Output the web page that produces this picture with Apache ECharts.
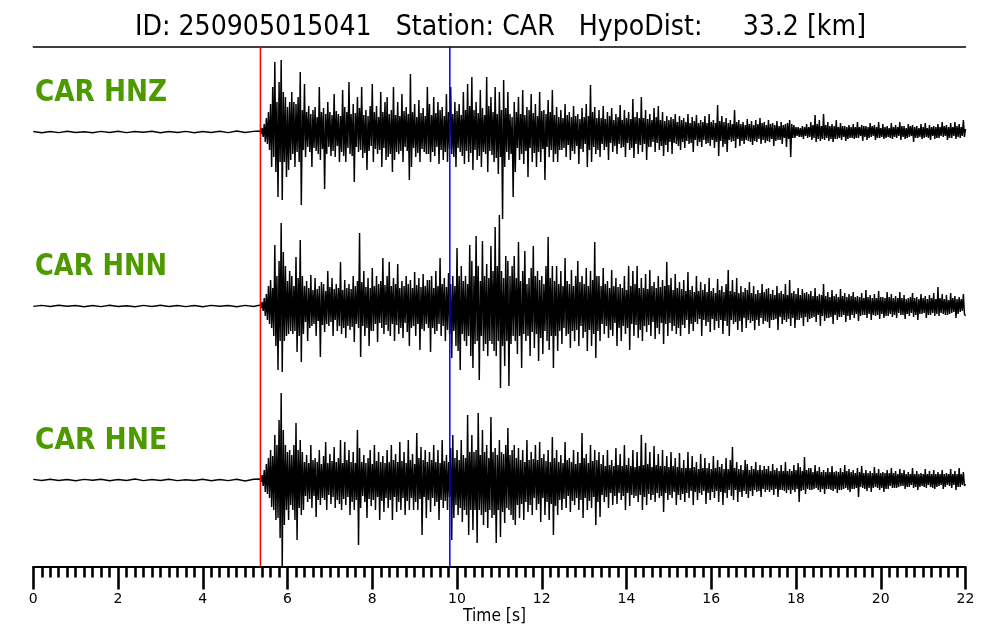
<!DOCTYPE html>
<html>
<head>
<meta charset="utf-8">
<script src="https://cdn.jsdelivr.net/npm/echarts@6/dist/echarts.min.js"></script>
<style>html,body{margin:0;padding:0;background:#fff}#chart{width:1000px;height:640px}</style>
</head>
<body>
<div id="chart"></div>
<script>
// ---- data ----
const titleText = 'ID: 250905015041   Station: CAR   HypoDist:     33.2 [km]';
const traceNames = ['CAR HNZ', 'CAR HNN', 'CAR HNE'];
const xAxisName = 'Time [s]';
const timeMin = 0, timeMax = 22, majorStep = 2;
const pickTimes = [5.36, 9.83];          // P (red), S (blue)
const noiseDt = 0.2;                      // pre-event samples from t=0
const signalStart = 5.35, signalDt = 0.025;

const hnzNoise = [0.5,-0.7,0.4,-0.6,0.8,-0.5,0.3,-0.8,0.6,-0.4,0.7,-0.6,0.5,-0.3,0.8,-0.7,0.4,-0.5,0.6,-0.8,0.5,-0.4,0.7,-0.6,0.9,-0.5,0.6];
const hnnNoise = [-0.4,0.6,-0.5,0.7,-0.3,0.5,-0.8,0.4,-0.6,0.7,-0.5,0.3,-0.7,0.6,-0.4,0.8,-0.5,0.4,-0.6,0.5,-0.7,0.6,-0.3,0.5,-0.8,0.6,-0.5];
const hneNoise = [0.6,-0.5,0.8,-0.4,0.5,-0.7,0.6,-0.3,0.7,-0.8,0.4,-0.5,0.9,-0.6,0.5,-0.4,0.7,-0.6,0.3,-0.5,0.8,-0.7,0.5,-0.6,0.7,-0.9,0.8];

const hnzSignal = [
 1,-2,4,-5,8,-10,14,-12,20,-18, 28,-35,45,-25,70,-40,30,-65,50,-30,
 72,-68,40,-30,35,-45,25,-38,30,-28, 40,-22,30,-35,28,-20,35,-30,60,-73,
 22,-18,48,-25,20,-15,26,-20,18,-35,22,-16,25,-19,15,-22,45,-28,20,-17,
 24,-57,18,-22,30,-15,20,-24,17,-19,38,-25,21,-14,18,-30,16,-20,42,-24,
 25,-30,20,-16,50,-22,18,-24,28,-50,19,-15,35,-20,24,-18,45,-26,17,-21,
 22,-38,16,-19,26,-14,48,-30,20,-17,26,-22,15,-18,40,-35,20,-16,30,-28,
 35,-25,18,-22,22,-40,45,-28,17,-20,30,-22,16,-19,38,-30,21,-15,25,-19,
 18,-48,58,-35,20,-16,28,-25,15,-21,32,-30,19,-17,24,-20,16,-22,45,-22,
 28,-30,17,-20,35,-24,19,-15,30,-32,22,-18,25,-28,16,-20,38,-30,20,-17,
 45,-22,18,-25,30,-35,21,-16,28,-20,17,-24,40,-32,22,-19,48,-30,26,-21,
 55,-38,22,-18,30,-28,19,-24,42,-35,24,-20,17,-22,55,-40,26,-19,35,-23,
 20,-30,45,-26,18,-42,40,-25,22,-87,52,-35,24,-20,40,-28,18,-22,15,-65,
 30,-40,20,-16,35,-28,18,-22,42,-32,17,-19,25,-45,22,-16,38,-30,19,-21,
 28,-35,16,-20,40,-30,21,-17,22,-48,18,-15,32,-25,20,-18,42,-30,17,-22,
 25,-30,15,-18,22,-18,14,-16,28,-25,17,-13,20,-28,15,-19,26,-22,16,-14,
 18,-32,13,-17,24,-20,15,-12,28,-35,16,-18,47,-30,20,-15,25,-22,14,-18,
 22,-25,14,-12,26,-18,13,-15,20,-28,16,-11,24,-20,12,-14,18,-22,15,-12,
 27,-16,12,-15,22,-25,14,-11,20,-18,13,-16,33,-26,15,-12,20,-22,14,-13,
 35,-20,14,-12,22,-28,13,-15,18,-15,12,-10,24,-20,15,-11,26,-18,12,-14,
 20,-24,11,-13,16,-20,12,-10,15,-22,13,-11,18,-12,10,-14,16,-18,12,-10,
 14,-16,10,-9,18,-12,9,-11,15,-20,11,-8,17,-14,9,-10,12,-15,10,-8,
 16,-12,9,-11,18,-14,10,-8,12,-16,9,-10,27,-24,11,-9,16,-15,10,-12,
 14,-20,9,-8,12,-10,8,-9,22,-16,10,-7,12,-14,8,-9,10,-12,7,-8,
 13,-9,8,-10,11,-13,7,-9,12,-10,8,-7,14,-12,9,-8,10,-11,7,-9,
 12,-10,8,-7,9,-14,7,-9,11,-8,6,-8,10,-12,7,-6,8,-15,9,-7,
 12,-25,8,-6,7,-6,5,-4,5,-5,4,-5,6,-7,5,-4,8,-6,5,-5,
 10,-8,7,-6,17,-10,8,-7,12,-9,6,-7,18,-8,7,-6,10,-9,6,-7,
 8,-10,6,-7,12,-7,5,-6,9,-8,6,-5,6,-9,5,-7,7,-6,5,-6,
 8,-7,5,-6,10,-6,5,-4,7,-9,6,-5,6,-8,5,-6,9,-5,6,-4,
 7,-8,5,-6,10,-6,4,-5,8,-7,5,-6,6,-5,4,-6,9,-7,5,-5,
 7,-6,5,-4,10,-8,6,-5,6,-7,4,-6,8,-5,6,-4,7,-10,5,-6,
 6,-6,4,-5,8,-7,5,-6,9,-5,4,-6,7,-8,5,-4,6,-7,5,-6,
 8,-6,5,-4,10,-5,6,-4,7,-8,5,-6,9,-6,5,-4,10,-7,6,-5,8,-6,5,-4,12,-5,3
];
const hnnSignal = [
 1,-2,4,-5,8,-10,12,-14,20,-18, 26,-22,18,-30,61,-40,30,-64,45,-35,
 83,-66,54,-35,40,-30,25,-28,35,-25, 30,-28,20,-25,49,-46,28,-30,66,-56,
 30,-28,20,-16,25,-35,18,-22,31,-20,16,-18,28,-30,17,-15,20,-51,24,-19,
 22,-26,15,-18,35,-20,19,-16,28,-30,17,-14,22,-25,18,-20,44,-28,16,-22,
 26,-32,18,-20,22,-24,17,-21,30,-36,20,-18,25,-22,73,-51,24,-20,35,-30,
 19,-22,28,-40,18,-25,38,-25,20,-18,30,-36,22,-17,25,-22,48,-28,21,-19,
 30,-25,44,-30,20,-18,28,-35,22,-19,42,-28,18,-22,25,-32,20,-17,30,-26,
 22,-40,26,-22,18,-20,34,-30,21,-18,28,-44,19,-23,32,-25,20,-18,26,-22,
 26,-46,30,-22,18,-28,35,-25,20,-18,48,-30,22,-20,28,-35,19,-24,33,-28,
 22,-52,30,-25,20,-40,58,-45,30,-64,40,-28,25,-35,30,-40,22,-30,61,-50,
 45,-62,30,-38,70,-35,40,-74,25,-30,65,-45,30,-38,42,-50,28,-35,60,-38,
 35,-45,79,-50,40,-35,91,-82,35,-40,28,-60,50,-35,45,-80,30,-38,40,-30,
 50,-35,28,-48,64,-30,25,-62,35,-28,55,-35,22,-30,28,-50,38,-26,60,-42,
 30,-28,35,-55,26,-32,30,-48,22,-25,40,-35,69,-44,28,-30,40,-62,25,-30,
 40,-45,22,-25,35,-38,20,-22,48,-30,25,-28,22,-42,36,-25,20,-35,30,-24,
 45,-40,24,-20,30,-32,22,-26,38,-45,20,-24,35,-40,26,-28,64,-52,30,-25,
 30,-35,20,-18,38,-28,22,-20,25,-32,18,-24,36,-30,20,-17,28,-40,19,-22,
 22,-35,18,-20,30,-28,16,-22,40,-44,20,-18,35,-30,22,-19,40,-32,18,-24,
 28,-35,18,-20,32,-26,17,-19,36,-30,20,-16,24,-33,18,-22,30,-28,19,-17,
 26,-38,20,-18,44,-30,21,-17,28,-25,16,-20,32,-28,18,-22,24,-30,17,-19,
 26,-22,15,-14,34,-28,16,-18,20,-25,14,-16,30,-18,15,-13,24,-30,16,-14,
 22,-20,14,-16,28,-26,15,-13,18,-24,13,-15,27,-22,16,-14,20,-28,14,-15,
 22,-20,36,-30,15,-14,26,-18,14,-16,28,-24,13,-15,20,-26,14,-12,18,-22,
 16,-14,24,-17,13,-15,20,-24,12,-14,16,-20,13,-12,22,-18,14,-15,17,-16,
 18,-22,12,-14,16,-14,11,-13,20,-24,13,-11,15,-18,12,-14,22,-16,11,-13,
 26,-20,13,-12,15,-22,12,-14,18,-14,11,-12,17,-20,13,-11,14,-16,12,-13,
 15,-12,10,-11,18,-16,10,-9,12,-20,11,-10,22,-15,10,-12,14,-12,9,-11,
 16,-18,10,-9,12,-14,9,-11,17,-11,10,-9,13,-16,9,-10,12,-14,10,-9,
 14,-12,9,-8,10,-15,9,-10,13,-9,8,-9,16,-12,9,-8,11,-14,8,-9,
 12,-10,8,-9,15,-13,9,-8,9,-12,8,-10,14,-10,9,-8,12,-11,8,-9,
 10,-12,8,-7,14,-9,8,-9,11,-13,7,-8,8,-10,9,-7,13,-11,8,-9,
 9,-14,7,-8,12,-8,8,-7,10,-12,7,-9,11,-9,8,-7,13,-10,7,-8,
 19,-10,8,-7,12,-8,7,-9,11,-9,6,-8,13,-7,8,-6,10,-12,7,-8,9,-6,7,-5,12,-8,-10
];
const hneSignal = [
 1,-2,5,-6,10,-12,16,-14,22,-18, 30,-27,24,-30,45,-40,35,-38,60,-58,
 87,-87,50,-45,35,-30,28,-40,30,-25, 25,-30,35,-40,57,-60,30,-28,40,-35,
 28,-30,18,-16,25,-22,17,-19,35,-28,20,-16,22,-37,18,-20,30,-25,16,-18,
 24,-20,38,-30,17,-15,26,-24,19,-17,33,-28,18,-20,22,-24,40,-30,17,-19,
 38,-25,20,-17,30,-35,18,-22,28,-30,17,-20,50,-65,32,-28,18,-16,25,-22,
 17,-38,22,-19,30,-26,16,-20,35,-30,19,-17,28,-40,18,-21,24,-32,17,-18,
 30,-28,18,-20,35,-40,20,-17,26,-32,18,-22,38,-30,19,-18,28,-35,17,-21,
 40,-30,20,-18,26,-30,16,-22,47,-30,22,-19,33,-55,20,-17,30,-38,18,-20,
 28,-32,20,-18,35,-26,18,-22,30,-40,17,-20,40,-28,19,-21,25,-30,18,-17,
 32,-60,45,-38,22,-25,30,-35,20,-28,40,-42,25,-30,22,-35,65,-55,28,-30,
 45,-50,28,-30,30,-63,67,-30,25,-35,50,-45,28,-32,35,-48,22,-30,63,-38,
 28,-35,32,-63,25,-30,40,-57,28,-32,26,-43,35,-28,52,-30,25,-35,30,-40,
 35,-45,22,-25,32,-38,20,-24,30,-40,18,-22,40,-32,20,-25,28,-35,21,-18,
 35,-30,20,-24,38,-42,22,-18,26,-35,19,-22,30,-40,18,-24,43,-55,22,-26,
 30,-35,18,-20,25,-30,17,-19,38,-28,20,-16,22,-32,18,-21,30,-25,16,-18,
 28,-30,17,-20,47,-38,22,-18,26,-30,17,-21,35,-28,19,-17,30,-45,20,-22,
 28,-37,16,-15,25,-22,14,-17,30,-28,15,-13,20,-25,14,-16,32,-24,15,-13,
 26,-20,14,-16,35,-30,15,-13,22,-26,14,-15,30,-18,13,-16,28,-22,14,-15,
 45,-30,15,-17,37,-25,16,-14,28,-20,13,-15,34,-22,15,-13,26,-18,14,-16,
 30,-32,14,-13,24,-20,13,-15,28,-18,14,-12,22,-25,13,-15,27,-20,12,-14,
 20,-22,12,-13,28,-18,12,-11,24,-25,13,-12,18,-20,11,-13,26,-15,12,-11,
 22,-24,12,-13,17,-20,11,-12,24,-18,12,-11,20,-22,13,-12,16,-25,11,-13,
 22,-18,11,-10,20,-16,33,-20,12,-10,18,-22,11,-12,15,-17,10,-11,20,-14,
 16,-18,10,-11,14,-16,11,-10,18,-12,10,-11,15,-17,10,-9,14,-12,11,-10,
 14,-12,9,-10,16,-15,10,-9,12,-17,9,-10,15,-10,9,-11,18,-13,9,-10,
 11,-14,9,-10,15,-12,10,-9,17,-22,13,-11,9,-10,23,-14,10,-9,12,-10,
 12,-10,8,-9,15,-8,9,-10,13,-12,8,-9,10,-14,8,-9,12,-9,8,-10,
 14,-11,8,-9,9,-13,8,-10,12,-10,8,-9,15,-8,9,-10,11,-12,8,-9,
 10,-9,7,-8,12,-17,8,-7,14,-8,7,-9,10,-11,7,-8,9,-12,7,-8,
 13,-7,7,-8,11,-10,7,-8,8,-12,7,-9,10,-9,7,-6,12,-8,7,-8,
 9,-8,6,-7,11,-6,7,-6,10,-9,6,-7,8,-7,6,-5,12,-8,6,-7,
 9,-10,6,-7,7,-6,6,-7,11,-8,6,-5,9,-7,6,-8,10,-9,6,-7,
 8,-6,6,-5,10,-9,6,-7,7,-5,6,-6,11,-8,6,-5,9,-10,6,-7,12,-7,6,-5,8,-6,-4
];

// ---- build ----
function buildTrace(noise, signal) {
  const pts = [];
  noise.forEach((v, i) => pts.push([+(i * noiseDt).toFixed(3), v]));
  signal.forEach((v, i) => pts.push([+(signalStart + i * signalDt).toFixed(4), v]));
  return pts;
}
const traces = [buildTrace(hnzNoise, hnzSignal), buildTrace(hnnNoise, hnnSignal), buildTrace(hneNoise, hneSignal)];

const FONT = 'DejaVu Sans';
const measureCtx = document.createElement('canvas').getContext('2d');
function fitScale(text, font, width) {
  measureCtx.font = font;
  return width / measureCtx.measureText(text).width;
}

const L = 33.3, R = 34.5;
const traceCenters = [132, 306, 480];
const half = 100;

const grids = [{left: L, right: R, top: 46.5, bottom: 73.5}];
traceCenters.forEach(c => grids.push({left: L, right: R, top: c - half, height: 2 * half}));

const xAxes = [
  {gridIndex: 0, type: 'value', min: timeMin, max: timeMax, interval: majorStep, position: 'bottom',
   axisLine: {show: true, onZero: false, lineStyle: {color: '#000', width: 2}},
   axisTick: {show: true, inside: false, length: 23, lineStyle: {color: '#000', width: 2.6}},
   minorTick: {show: true, splitNumber: 10, length: 11, lineStyle: {color: '#000', width: 2.6}},
   axisLabel: {show: true, color: '#000', fontSize: 14, fontFamily: FONT, margin: 26},
   splitLine: {show: false}, minorSplitLine: {show: false}},
  {gridIndex: 0, type: 'value', min: timeMin, max: timeMax, position: 'top',
   axisLine: {show: true, onZero: false, lineStyle: {color: '#000', width: 1.5}},
   axisTick: {show: false}, axisLabel: {show: false}, splitLine: {show: false}}
];
const yAxes = [{gridIndex: 0, type: 'value', min: 0, max: 1, show: false}];
traceCenters.forEach((c, k) => {
  xAxes.push({gridIndex: k + 1, type: 'value', min: timeMin, max: timeMax, show: false});
  yAxes.push({gridIndex: k + 1, type: 'value', min: -half, max: half, show: false});
});

const series = traces.map((d, k) => ({
  type: 'line', xAxisIndex: k + 2, yAxisIndex: k + 1, data: d,
  showSymbol: false, symbol: 'none', clip: false, z: 2,
  lineStyle: {color: '#000', width: 1.45, join: 'miter', miterLimit: 2}
}));
const pickColors = ['#ff0000', '#0000ff'];
pickTimes.forEach((t, i) => series.push({
  type: 'line', xAxisIndex: 0, yAxisIndex: 0, data: [[t, 0], [t, 1]],
  showSymbol: false, symbol: 'none', z: 5,
  lineStyle: {color: pickColors[i], width: 1.5}
}));

const graphics = [];
const titleFont = `28px "${FONT}"`;
graphics.push({type: 'text', x: 500.5, y: 28, scaleX: fitScale(titleText, titleFont, 731),
  style: {text: titleText, font: titleFont, fill: '#000', align: 'center', verticalAlign: 'middle',
          textAlign: 'center', textVerticalAlign: 'middle'}});
const labelFont = `bold 30px "${FONT}"`;
traceNames.forEach((name, k) => {
  graphics.push({type: 'text', x: 35, y: traceCenters[k] - 39, scaleX: fitScale(name, labelFont, 132),
    style: {text: name, font: labelFont, fill: '#4c9a00', align: 'left', verticalAlign: 'middle',
            textAlign: 'left', textVerticalAlign: 'middle'}});
});
const nameFont = `17px "${FONT}"`;
graphics.push({type: 'text', x: 494.5, y: 617, scaleX: fitScale(xAxisName, nameFont, 63),
  style: {text: xAxisName, font: nameFont, fill: '#000', align: 'center', verticalAlign: 'middle',
          textAlign: 'center', textVerticalAlign: 'middle'}});

const chart = echarts.init(document.getElementById('chart'), null, {renderer: 'canvas'});
chart.setOption({
  animation: false,
  backgroundColor: '#fff',
  textStyle: {fontFamily: FONT},
  grid: grids,
  xAxis: xAxes,
  yAxis: yAxes,
  series: series,
  graphic: graphics
});
</script>
</body>
</html>
